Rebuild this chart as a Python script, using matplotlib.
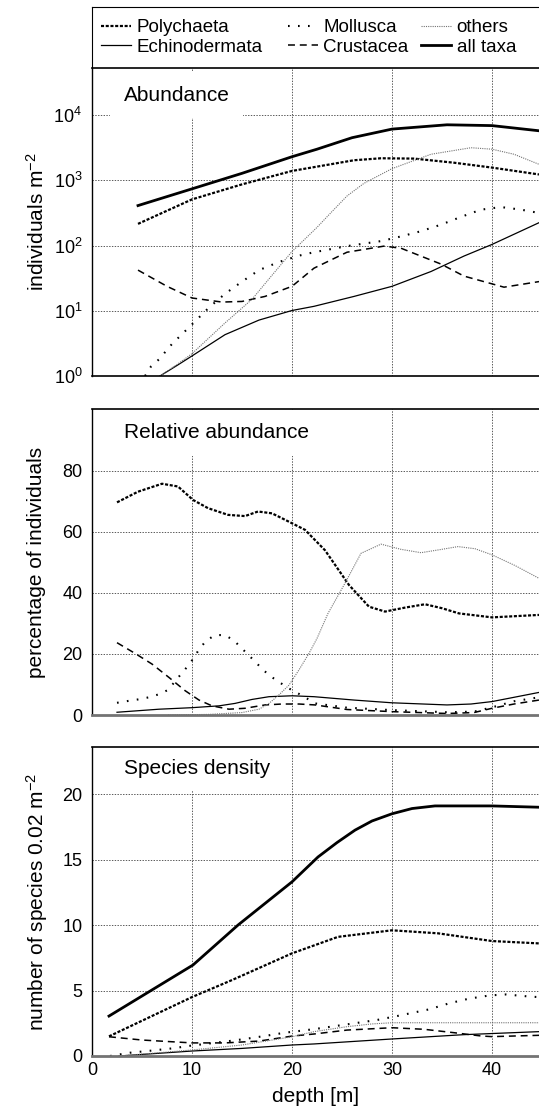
import numpy as np
import matplotlib
matplotlib.use('Agg')
import matplotlib.pyplot as plt
from matplotlib.legend import Legend

plt.rcParams['font.family'] = ['Liberation Sans', 'DejaVu Sans']
plt.rcParams['mathtext.fontset'] = 'custom'
plt.rcParams['mathtext.rm'] = 'Liberation Sans'
plt.rcParams['mathtext.it'] = 'Liberation Sans:italic'
plt.rcParams['mathtext.default'] = 'regular'
plt.rcParams['lines.scale_dashes'] = False

taxa = ['Polychaeta', 'Echinodermata', 'Mollusca', 'Crustacea', 'others', 'all taxa']

# --- abundance (individuals m^-2) ---
ab_poly_x = [4.6, 10, 15, 20, 22.5, 26.2, 28.9, 32.2, 36.2, 40, 44.7]
ab_poly_y = [215, 510, 867, 1393, 1622, 2032, 2178, 2153, 1862, 1567, 1230]
ab_echi_x = [6.8, 8.5, 10, 13.3, 16.7, 20, 22.2, 26.2, 30, 33.9, 37.2, 40, 44.7]
ab_echi_y = [1, 1.45, 2.03, 4.3, 7.2, 10.1, 11.7, 16.6, 23.7, 40, 69, 104, 224]
ab_moll_x = [5.3, 5.9, 6.7, 8, 9.5, 11.7, 13.3, 15, 16.7, 18.7, 20.7, 22.2, 25.5,
             28.9, 30.9, 32.9, 34.9, 36.9, 38.9, 40.9, 42.9, 44.7]
ab_moll_y = [1, 1.4, 1.8, 3.1, 5.2, 11.2, 18.2, 28, 42, 56, 70, 79, 98,
             117, 138, 166, 209, 275, 355, 389, 355, 316]
ab_crus_x = [4.6, 7.5, 10, 13, 15, 17.3, 20, 22.2, 25.5, 29.2, 30.9, 34.9, 37.2, 41.2, 44.7]
ab_crus_y = [42, 23.7, 15.7, 13.6, 13.9, 16.6, 23.7, 45, 79, 98, 91, 52, 34, 23, 28]
ab_oth_x = [6.8, 8.5, 10, 13.3, 16, 18, 20, 21.3, 22.5, 23.9, 25.5, 27.2, 30, 33.9,
            37.9, 40, 42.2, 44.7]
ab_oth_y = [1, 1.5, 2.2, 6.5, 15, 35, 81, 126, 190, 320, 575, 900, 1510, 2510,
            3160, 3000, 2510, 1760]
ab_all_x = [4.6, 10, 15, 20, 22.5, 26, 30, 35.5, 40, 44.7]
ab_all_y = [410, 740, 1280, 2300, 3000, 4500, 6100, 7100, 6900, 5750]

# --- relative abundance (%) ---
ra_poly_x = [2.5, 4.6, 7, 8.6, 10.1, 11.6, 13.6, 15.3, 16.6, 18, 19.3, 21.3, 23.3, 25.7,
             27.7, 29.3, 31.3, 33.3, 35, 36.7, 40, 44.7]
ra_poly_y = [69.7, 73.2, 75.8, 74.9, 70.5, 67.8, 65.6, 65.2, 66.7, 66.1, 64, 60.7, 54, 42.6,
             35.5, 33.9, 35.2, 36.3, 35, 33.3, 32, 32.8]
ra_echi_x = [2.5, 6.7, 10, 12.7, 14.3, 16, 17.7, 20, 22.2, 26.2, 30, 35.5, 37.9, 40, 42.2, 44.7]
ra_echi_y = [0.9, 1.9, 2.4, 3.0, 3.8, 5.1, 6.0, 6.3, 6.0, 4.9, 4.0, 3.3, 3.6, 4.4, 5.8, 7.4]
ra_moll_x = [2.5, 3.6, 4.6, 5.7, 6.7, 7.6, 8.9, 9.6, 10.2, 10.7, 11.4, 12.3, 13.3, 14.2,
             14.9, 15.7, 16.4, 17.1, 17.9, 18.8, 19.7, 20.6, 21.5, 22.3, 25.5, 30, 35.5,
             38.2, 40, 42.2, 44.7]
ra_moll_y = [4.0, 4.6, 5.1, 5.8, 6.8, 8.2, 13.4, 16.1, 18.8, 21.5, 24.3, 26.2, 26.2, 24.4,
             22.1, 19.5, 17.2, 14.8, 12.6, 10.6, 8.7, 7.1, 5.4, 3.8, 2.4, 1.6, 0.9,
             1.1, 2.5, 4.5, 5.8]
ra_crus_x = [2.5, 4.3, 6, 7.7, 9.3, 10.7, 12, 13.7, 15.3, 17.3, 19, 20.7, 22.3, 25.5, 30,
             35.5, 38.2, 40, 42.2, 44.7]
ra_crus_y = [23.7, 20.2, 16.7, 12.3, 8.0, 4.9, 3.0, 1.9, 2.2, 3.3, 3.6, 3.6, 3.3, 1.8, 1.1,
             0.5, 0.8, 2.2, 3.6, 4.9]
ra_oth_x = [7.6, 11.7, 15, 16.7, 17.7, 18.7, 19.7, 20.7, 21.7, 22.5, 23.6, 25.3, 26.9,
            28.9, 30.9, 32.9, 34.8, 36.6, 38.3, 40, 42.3, 44.7]
ra_oth_y = [0, 0.2, 0.8, 1.9, 3.8, 6.6, 9.8, 14.8, 20.2, 25.1, 33.3, 43.2, 53,
            56, 54.3, 53.2, 54.2, 55.2, 54.5, 52.5, 49, 44.8]

# --- species density (species per 0.02 m^2) ---
sd_poly_x = [1.7, 10, 14, 20, 24.6, 30, 34.6, 40, 44.7]
sd_poly_y = [1.5, 4.5, 5.8, 7.84, 9.1, 9.6, 9.37, 8.78, 8.6]
sd_echi_x = [2.7, 10, 15, 20, 22.2, 30, 37.2, 44.7]
sd_echi_y = [0, 0.38, 0.58, 0.84, 0.92, 1.3, 1.63, 1.86]
sd_moll_x = [1.8, 3.8, 5.8, 8, 10, 13.2, 15.2, 17.2, 19.3, 22.2, 28.5, 30.5, 33.7,
             35.7, 37.7, 39.8, 41.4, 43.9, 44.7]
sd_moll_y = [0, 0.25, 0.4, 0.58, 0.8, 1.09, 1.29, 1.52, 1.78, 2.05, 2.75, 3.05, 3.56,
             4.02, 4.38, 4.63, 4.7, 4.53, 4.5]
sd_crus_x = [1.7, 5, 10, 13.3, 16.7, 20, 22.2, 25.5, 30, 33.2, 36.2, 38.9, 40, 44.7]
sd_crus_y = [1.47, 1.22, 1.0, 1.0, 1.14, 1.52, 1.68, 1.98, 2.16, 2.04, 1.78, 1.53, 1.48, 1.58]
sd_oth_x = [2.7, 10, 15, 20, 22.2, 25.5, 28, 30, 44.7]
sd_oth_y = [0, 0.46, 0.84, 1.47, 1.86, 2.24, 2.45, 2.54, 2.54]
sd_all_x = [1.7, 10.1, 14.6, 20, 22.6, 24.5, 26.3, 28, 30, 32, 34.3, 40, 44.7]
sd_all_y = [3.05, 6.95, 10, 13.3, 15.2, 16.3, 17.25, 17.95, 18.5, 18.9, 19.1, 19.1, 19.0]

styles = {
    'Polychaeta': dict(color='black', lw=1.6, ls=(0, (2.2, 1.2))),
    'Echinodermata': dict(color='black', lw=0.9, ls='-'),
    'Mollusca': dict(color='black', lw=1.5, ls=(0, (1.2, 6.0))),
    'Crustacea': dict(color='black', lw=1.1, ls=(0, (5.0, 3.5))),
    'others': dict(color='0.45', lw=0.8, ls=(0, (0.8, 0.8))),
    'all taxa': dict(color='black', lw=2.0, ls='-'),
}

W, H = 539, 1112
fig = plt.figure(figsize=(W / 100, H / 100), dpi=100)
L = 92 / W


def box(top, bottom):
    return [L, 1 - bottom / H, 1 - L, (bottom - top) / H]


axl = fig.add_axes(box(7, 68))
ax1 = fig.add_axes(box(68, 376))
ax2 = fig.add_axes(box(409, 715))
ax3 = fig.add_axes(box(747, 1056))

panels = [
    (ax1, [(ab_poly_x, ab_poly_y), (ab_echi_x, ab_echi_y), (ab_moll_x, ab_moll_y),
           (ab_crus_x, ab_crus_y), (ab_oth_x, ab_oth_y), (ab_all_x, ab_all_y)]),
    (ax2, [(ra_poly_x, ra_poly_y), (ra_echi_x, ra_echi_y), (ra_moll_x, ra_moll_y),
           (ra_crus_x, ra_crus_y), (ra_oth_x, ra_oth_y), None]),
    (ax3, [(sd_poly_x, sd_poly_y), (sd_echi_x, sd_echi_y), (sd_moll_x, sd_moll_y),
           (sd_crus_x, sd_crus_y), (sd_oth_x, sd_oth_y), (sd_all_x, sd_all_y)]),
]

handles = {}
for ax, series in panels:
    for name, s in zip(taxa, series):
        if s is None:
            continue
        ln, = ax.plot(s[0], s[1], label=name, zorder=2, **styles[name])
        if ax is ax1:
            handles[name] = ln

ax1.set_yscale('log')
ax1.set_ylim(1, 10 ** 4.722)
ax1.set_yticks([1, 10, 100, 1000, 10000])
ax1.minorticks_off()
ax2.set_ylim(0, 100.3)
ax2.set_yticks([0, 20, 40, 60, 80])
ax3.set_ylim(0, 23.6)
ax3.set_yticks([0, 5, 10, 15, 20])

titles = ['Abundance', 'Relative abundance', 'Species density']
title_y = [0.912, 0.922, 0.932]
for ax, t, ty in zip([ax1, ax2, ax3], titles, title_y):
    ax.set_xlim(0, 44.7)
    ax.set_xticks([0, 10, 20, 30, 40])
    ax.set_axisbelow(True)
    ax.grid(True, color='0.35', ls=(0, (1, 1)), lw=0.7)
    ax.tick_params(length=0, labelsize=13, pad=7)
    ax.spines['right'].set_visible(False)
    ax.spines['left'].set_linewidth(1.0)
    ax.spines['top'].set_linewidth(1.2)
    ax.text(0.071, ty, t, transform=ax.transAxes, fontsize=15, va='center', ha='left',
            zorder=1.5, bbox=dict(fc='white', ec='none', boxstyle='square,pad=0.65'))

ax1.tick_params(axis='x', labelbottom=False)
ax2.tick_params(axis='x', labelbottom=False)
ax3.tick_params(axis='x', pad=4)
ax1.spines['bottom'].set_linewidth(1.2)
for ax in (ax2, ax3):
    ax.spines['bottom'].set_linewidth(2.0)
    ax.spines['bottom'].set_color('0.45')

ax3.set_xlabel('depth [m]', fontsize=15, labelpad=6)

ylabels = ['individuals m$^{-2}$', 'percentage of individuals', 'number of species 0.02 m$^{-2}$']
for ax, lab in zip([ax1, ax2, ax3], ylabels):
    pos = ax.get_position()
    fig.text(37 / W, pos.y0 + pos.height / 2, lab, rotation=90, fontsize=15,
             ha='center', va='center')

# legend panel
axl.set_xticks([])
axl.set_yticks([])
axl.spines['right'].set_visible(False)
axl.spines['bottom'].set_visible(False)
axl.set_xlim(0, 1)
cols = [['Polychaeta', 'Echinodermata'], ['Mollusca', 'Crustacea'], ['others', 'all taxa']]
col_x = [0.02, 0.438, 0.736]
for names, cx in zip(cols, col_x):
    leg = Legend(axl, [handles[n] for n in names], names, loc='center left',
                 bbox_to_anchor=(cx, 0.5), frameon=False, fontsize=13.5,
                 handlelength=1.6, handletextpad=0.3, borderpad=0, borderaxespad=0,
                 labelspacing=0.15)
    axl.add_artist(leg)

fig.savefig('out.png', dpi=100)
